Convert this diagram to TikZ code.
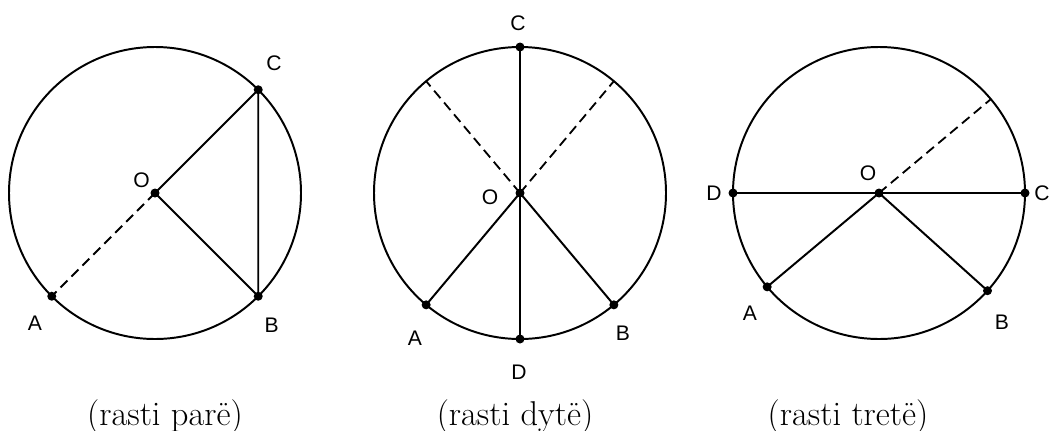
\documentclass[tikz,border=0pt]{standalone}
\usepackage{fontspec}
\newfontfamily\lblfont{Liberation Sans}
\begin{document}
\begin{tikzpicture}[x=0.025cm, y=0.025cm,
    seg/.style={line width=1.4pt},
    dsh/.style={line width=1.3pt, dash pattern=on 7pt off 4pt},
    lbl/.style={font=\lblfont\fontsize{15}{18}\selectfont, inner sep=0pt},
    titull/.style={font=\fontsize{24.5}{29}\selectfont, anchor=base, inner sep=0pt}]
    \useasboundingbox (0,0) rectangle (1051,430);

    % 1. Rasti i parë
    \coordinate (O1) at (155,237);
    \coordinate (A1) at ([shift={(225:146)}]O1);
    \coordinate (B1) at ([shift={(-45:146)}]O1);
    \coordinate (C1) at ([shift={(45:146)}]O1);
    \draw[seg] (O1) circle (146);
    \draw[seg] (B1) -- (O1) -- (C1) -- (B1);
    \draw[dsh] (O1) -- (A1);
    \foreach \p in {O1,A1,B1,C1} \fill (\p) circle (4.5);
    \node[lbl] (lO1) at (141.7,250) {O};
    \node[lbl] (lA1) at (35,107) {A};
    \node[lbl] (lB1) at (271.7,105) {B};
    \node[lbl] (lC1) at (274,367) {C};

    % 2. Rasti i dytë
    \coordinate (O2) at (520,237);
    \coordinate (A2) at ([shift={(230:146)}]O2);
    \coordinate (B2) at ([shift={(310:146)}]O2);
    \coordinate (C2) at ([shift={(90:146)}]O2);
    \coordinate (D2) at ([shift={(270:146)}]O2);
    \coordinate (E2) at ([shift={(130:146)}]O2);
    \coordinate (F2) at ([shift={(50:146)}]O2);
    \draw[seg] (O2) circle (146);
    \draw[seg] (C2) -- (D2);
    \draw[seg] (A2) -- (O2) -- (B2);
    \draw[dsh] (O2) -- (E2);
    \draw[dsh] (O2) -- (F2);
    \foreach \p in {O2,A2,B2,C2,D2} \fill (\p) circle (4.5);
    \node[lbl] (lO2) at (490,233) {O};
    \node[lbl] (lA2) at (415,92) {A};
    \node[lbl] (lB2) at (623,97) {B};
    \node[lbl] (lC2) at (518,407) {C};
    \node[lbl] (lD2) at (519,58) {D};

    % 3. Rasti i tretë
    \coordinate (O3) at (879,237);
    \coordinate (A3) at ([shift={(220:146)}]O3);
    \coordinate (B3) at ([shift={(318:146)}]O3);
    \coordinate (C3) at ([shift={(0:146)}]O3);
    \coordinate (D3) at ([shift={(180:146)}]O3);
    \coordinate (E3) at ([shift={(40:146)}]O3);
    \draw[seg] (O3) circle (146);
    \draw[seg] (D3) -- (C3);
    \draw[seg] (A3) -- (O3) -- (B3);
    \draw[dsh] (O3) -- (E3);
    \foreach \p in {O3,A3,B3,C3,D3} \fill (\p) circle (4.5);
    \node[lbl] (lO3) at (868,257) {O};
    \node[lbl] (lA3) at (750,117) {A};
    \node[lbl] (lB3) at (1002,108) {B};
    \node[lbl] (lC3) at (1042,237) {C};
    \node[lbl] (lD3) at (714,237) {D};

    % 4. Titujt
    \node[titull] (t1) at (165,5) {(rasti parë)};
    \node[titull] (t2) at (515,5) {(rasti dytë)};
    \node[titull] (t3) at (848,5) {(rasti tretë)};
\end{tikzpicture}
\end{document}
